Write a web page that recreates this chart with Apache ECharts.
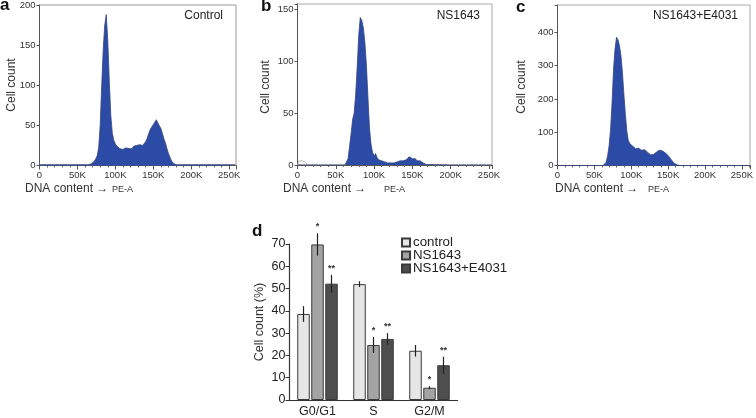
<!DOCTYPE html>
<html>
<head>
<meta charset="utf-8">
<script src="https://cdn.jsdelivr.net/npm/echarts@6/dist/echarts.min.js"></script>
<style>html,body{margin:0;padding:0;background:#fff}#c{width:756px;height:418px}</style>
</head>
<body>
<div id="c"></div>
<script>
// ---------- Histogram data (x in K units, y = cell count) ----------
const aX = [0,20,40,60,62,64,66,68,70,72,74,76,78,80,82,84,86,88,90,92,94,96,98,100,102,104,106,108,110,112,114,116,118,120,122,124,126,128,130,132,134,136,138,140,142,144,146,148,150,152,154,156,158,160,162,164,166,168,170,172,174,176,178,180,200,220,240,258];
const aY = [1,1,1,1,1,1,1,2,3,5,8,12,22,50,100,145,175,188,155,105,62,40,31,27,24,22,21,22,20,21,22,20,21,23,21,24,23,25,24,26,24,25,27,30,34,40,45,48,50,54,57,53,51,46,40,33,28,21,15,10,6,3,1,1,1,1,1,1];

const bX = [0,14,20,40,62,64,66,68,70,72,74,76,78,80,82,84,86,88,90,92,94,96,98,100,102,104,106,108,110,112,114,116,118,120,122,124,126,128,130,132,134,136,138,140,142,144,146,148,150,152,154,156,158,160,162,164,166,168,170,200,254];
const bY = [0,0,0,0,0,1,6,18,30,44,50,68,95,125,142,139,132,118,96,65,36,20,12,9,11,7,5,4,4,3,3,3,2,3,2,3,2,3,3,3,4,5,4,4,5,6,8,7,6,5,6,4,5,4,3,2,1,0.5,0,0,0];
const bDebrisX = [0,2,4,6,8,10,12,14];
const bDebrisY = [0,4,5,4,5,3,2,0];

const cX = [0,20,40,62,64,66,68,70,72,74,76,78,80,82,84,86,88,90,92,94,96,98,100,102,104,106,108,110,112,114,116,118,120,122,124,126,128,130,132,134,136,138,140,142,144,146,148,150,152,154,156,158,160,162,164,166,200,261];
const cY = [0,0,0,0,1,10,30,60,110,190,290,350,385,378,360,330,280,214,154,103,75,66,63,58,53,50,47,52,50,46,49,47,42,40,35,32,31,33,36,40,44,46,43,44,40,38,36,30,24,18,12,7,4,2,1,0,0,0];

// ---------- Bar chart data ----------
const phases = ['G0/G1','S','G2/M'];
const groups = ['control','NS1643','NS1643+E4031'];
const controlVal = [38.6, 52.0, 22.1];
const controlErr = [3.5, 1.3, 2.6];
const ns1643Val  = [69.8, 24.7, 5.5];
const ns1643Err  = [5.0, 3.6, 0.7];
const comboVal   = [52.2, 27.4, 15.6];
const comboErr   = [4.0, 2.6, 3.8];
const ns1643Sig  = ['*','*','*'];
const comboSig   = ['**','**','**'];

const histXTicks = [0,50,100,150,200,250];
const barYTicks = [0,10,20,30,40,50,60,70];

const FONT = 'Liberation Sans, Arial, sans-serif';
const BLUE = '#2b4ba6';
const pairs = (xs, ys) => xs.map((x, i) => [x, ys[i]]);

function histX(idx, max) {
  return {
    gridIndex: idx, type: 'value', min: 0, max: max, interval: 50,
    axisLine: {show: true, onZero: false, lineStyle: {color: '#555', width: 1}},
    axisTick: {show: true, length: 4, lineStyle: {color: '#555'}},
    minorTick: {show: true, splitNumber: 5, length: 2, lineStyle: {color: '#666'}},
    splitLine: {show: false},
    axisLabel: {fontFamily: FONT, fontSize: 9.5, color: '#333', margin: 5,
      formatter: v => (v === 0 ? '0' : v + 'K')}
  };
}
function histY(idx, max, interval) {
  return {
    gridIndex: idx, type: 'value', min: 0, max: max, interval: interval,
    axisLine: {show: true, lineStyle: {color: '#555', width: 1}},
    axisTick: {show: true, length: 3, lineStyle: {color: '#555'}},
    splitLine: {show: false},
    axisLabel: {fontFamily: FONT, fontSize: 9.5, color: '#333', margin: 4,
      showMaxLabel: true, formatter: v => (v % interval === 0 ? String(v) : '')}
  };
}
function histSeries(idx, data) {
  return {
    type: 'line', xAxisIndex: idx, yAxisIndex: idx, data: data,
    symbol: 'none', smooth: false, silent: true,
    lineStyle: {color: '#34457e', width: 0.8},
    areaStyle: {color: BLUE, opacity: 1}
  };
}

const barW = 12.5;
const offsets = [-14, 0, 14];
function errSeries(vals, errs, sig, k) {
  return {
    type: 'custom', xAxisIndex: 3, yAxisIndex: 3, silent: true, z: 5,
    data: vals.map((v, i) => [i, v, errs[i], sig ? sig[i] : '']),
    renderItem: function (params, api) {
      const i = api.value(0), v = api.value(1), e = api.value(2);
      const top = api.coord([i, v + e]);
      const bot = api.coord([i, v - e]);
      const x = top[0] + offsets[k];
      const children = [{
        type: 'line',
        shape: {x1: x, y1: top[1], x2: x, y2: bot[1]},
        style: {stroke: '#222', lineWidth: 1.2}
      }];
      const s = sig ? sig[i] : '';
      if (s) {
        children.push({
          type: 'text',
          style: {text: s, x: x, y: top[1] - 2, align: 'center', verticalAlign: 'bottom',
            font: 'bold 9px ' + FONT, fill: '#333'}
        });
      }
      return {type: 'group', children: children};
    }
  };
}
function barSeries(name, vals, color, k) {
  return {
    type: 'bar', name: name, xAxisIndex: 3, yAxisIndex: 3, data: vals,
    barWidth: barW, barGap: '12%', silent: true,
    itemStyle: {color: color, borderColor: '#3a3a3a', borderWidth: 1}
  };
}

const chart = echarts.init(document.getElementById('c'), null, {renderer: 'canvas'});
chart.setOption({
  animation: false,
  backgroundColor: '#fff',
  grid: [
    {left: 39.5, top: 3.5, width: 196.5, height: 162, show: true, borderColor: '#999', borderWidth: 1, backgroundColor: 'transparent'},
    {left: 297.5, top: 4, width: 194.5, height: 161, show: true, borderColor: '#aaa', borderWidth: 1, backgroundColor: 'transparent'},
    {left: 557.5, top: 5, width: 194.5, height: 160.5, show: true, borderColor: '#aaa', borderWidth: 1, backgroundColor: 'transparent'},
    {left: 289.5, top: 244, width: 168, height: 156.3}
  ],
  xAxis: [
    histX(0, 259), histX(1, 254), histX(2, 261),
    {
      gridIndex: 3, type: 'category', data: phases,
      axisLine: {show: true, lineStyle: {color: '#333', width: 1.2}},
      axisTick: {show: false},
      axisLabel: {fontFamily: FONT, fontSize: 12.5, color: '#222', margin: 5}
    }
  ],
  yAxis: [
    histY(0, 200, 50), histY(1, 155, 50), histY(2, 482, 100),
    {
      gridIndex: 3, type: 'value', min: 0, max: 70, interval: 10,
      axisLine: {show: true, lineStyle: {color: '#333', width: 1.2}},
      axisTick: {show: true, length: 4, lineStyle: {color: '#333'}},
      splitLine: {show: false},
      axisLabel: {fontFamily: FONT, fontSize: 12.5, color: '#222', margin: 4},
      name: 'Cell count (%)', nameLocation: 'middle', nameGap: 23,
      nameTextStyle: {fontFamily: FONT, fontSize: 12.5, color: '#333'}
    }
  ],
  legend: {
    data: groups, orient: 'vertical', left: 396, top: 231,
    itemWidth: 8, itemHeight: 8, itemGap: 0, icon: 'rect',
    textStyle: {fontFamily: FONT, fontSize: 13.3, color: '#222', padding: [0, 0, 0, -2]},
    selectedMode: false
  },
  series: [
    histSeries(0, pairs(aX, aY)),
    histSeries(1, pairs(bX, bY)),
    {
      type: 'line', xAxisIndex: 1, yAxisIndex: 1, data: pairs(bDebrisX, bDebrisY),
      symbol: 'none', silent: true, lineStyle: {color: '#aaa', width: 0.8}
    },
    histSeries(2, pairs(cX, cY)),
    barSeries(groups[0], controlVal, '#e6e6e6', 0),
    barSeries(groups[1], ns1643Val, '#a3a3a3', 1),
    barSeries(groups[2], comboVal, '#4e4e4e', 2),
    errSeries(controlVal, controlErr, null, 0),
    errSeries(ns1643Val, ns1643Err, ns1643Sig, 1),
    errSeries(comboVal, comboErr, comboSig, 2)
  ],
  graphic: [
    {type: 'text', left: 0, top: -3, style: {text: 'a', font: 'bold 17px ' + FONT, fill: '#111'}},
    {type: 'text', left: 261, top: -2, style: {text: 'b', font: 'bold 17px ' + FONT, fill: '#111'}},
    {type: 'text', left: 516, top: -1, style: {text: 'c', font: 'bold 17px ' + FONT, fill: '#111'}},
    {type: 'text', left: 252, top: 223, style: {text: 'd', font: 'bold 17px ' + FONT, fill: '#111'}},

    {type: 'text', right: 756 - 223, top: 10, style: {text: 'Control', font: '12px ' + FONT, fill: '#222'}},
    {type: 'text', right: 756 - 480, top: 10, style: {text: 'NS1643', font: '12px ' + FONT, fill: '#222'}},
    {type: 'text', right: 756 - 738, top: 10, style: {text: 'NS1643+E4031', font: '12px ' + FONT, fill: '#222'}},

    {type: 'text', x: 12, y: 85, rotation: Math.PI / 2, style: {text: 'Cell count', font: '12px ' + FONT, fill: '#333', align: 'center', verticalAlign: 'middle'}},
    {type: 'text', x: 266, y: 87, rotation: Math.PI / 2, style: {text: 'Cell count', font: '12px ' + FONT, fill: '#333', align: 'center', verticalAlign: 'middle'}},
    {type: 'text', x: 522, y: 87, rotation: Math.PI / 2, style: {text: 'Cell count', font: '12px ' + FONT, fill: '#333', align: 'center', verticalAlign: 'middle'}},

    {type: 'text', left: 25, top: 183, style: {text: 'DNA content \u2192', font: '12px ' + FONT, fill: '#333'}},
    {type: 'text', left: 112, top: 185, style: {text: 'PE-A', font: '9px ' + FONT, fill: '#333'}},
    {type: 'text', left: 283, top: 183, style: {text: 'DNA content \u2192', font: '12px ' + FONT, fill: '#333'}},
    {type: 'text', left: 384, top: 185, style: {text: 'PE-A', font: '9px ' + FONT, fill: '#333'}},
    {type: 'text', left: 555, top: 183, style: {text: 'DNA content \u2192', font: '12px ' + FONT, fill: '#333'}},
    {type: 'text', left: 648, top: 185, style: {text: 'PE-A', font: '9px ' + FONT, fill: '#333'}}
  ]
});
</script>
</body>
</html>
